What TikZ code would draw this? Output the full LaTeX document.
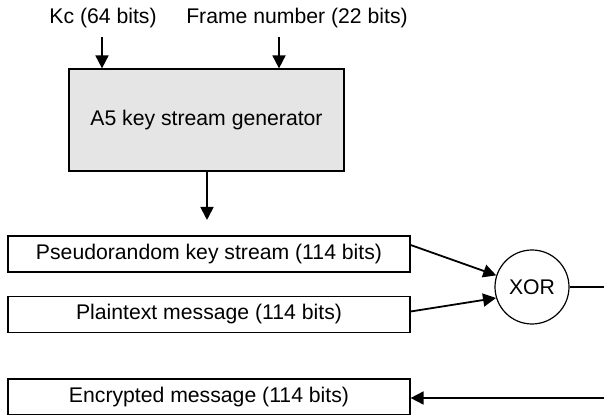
\documentclass[tikz,border=0pt]{standalone}
\usepackage{fontspec}
\setmainfont{Liberation Sans}
\usetikzlibrary{arrows.meta}

\begin{document}
\begin{tikzpicture}[x=0.5pt,y=-0.5pt,
  font=\fontsize{10.6}{12.6}\selectfont,
  msgbox/.style={draw,line width=0.6pt,minimum width=201pt,minimum height=18pt,inner sep=0pt},
  arr/.style={line width=0.9pt,-{Triangle[length=6.5pt,width=6.5pt]}}]
  \useasboundingbox (0,0) rectangle (604,415);

  % Key stream generator and its inputs
  \node (kc) at (103,18) {Kc (64 bits)};
  \node (frame) at (297,18) {Frame number (22 bits)};
  \node[draw,line width=0.6pt,fill=gray!20,minimum width=137.5pt,minimum height=51pt] (gen) at (206.5,120) {A5 key stream generator};
  \coordinate (kcin) at (102,37);
  \coordinate (framein) at (279,37);
  \draw[arr] (kcin) -- (kcin |- gen.north);
  \draw[arr] (framein) -- (framein |- gen.north);
  \coordinate (genout) at (207,220);
  \draw[arr] (genout |- gen.south) -- (genout);

  % Message boxes
  \node[msgbox] (prs) at (209,254) {Pseudorandom key stream (114 bits)};
  \node[msgbox] (plain) at (209,314.5) {Plaintext message (114 bits)};
  \node[msgbox] (enc) at (209,397) {Encrypted message (114 bits)};

  % XOR
  \node[draw,circle,line width=0.6pt,minimum size=37pt,inner sep=0pt] (xor) at (532,287) {XOR};
  \draw[arr] ([yshift=4.5pt]prs.east) -- (xor.162);
  \draw[arr] ([yshift=1.5pt]plain.east) -- (xor.197);
  \coordinate (rightout) at (604,287);
  \coordinate (rightin) at (604,398);
  \draw[line width=0.9pt] (xor.east) -- (rightout);
  \draw[arr] (rightin) -- (rightin -| enc.east);
\end{tikzpicture}
\end{document}
